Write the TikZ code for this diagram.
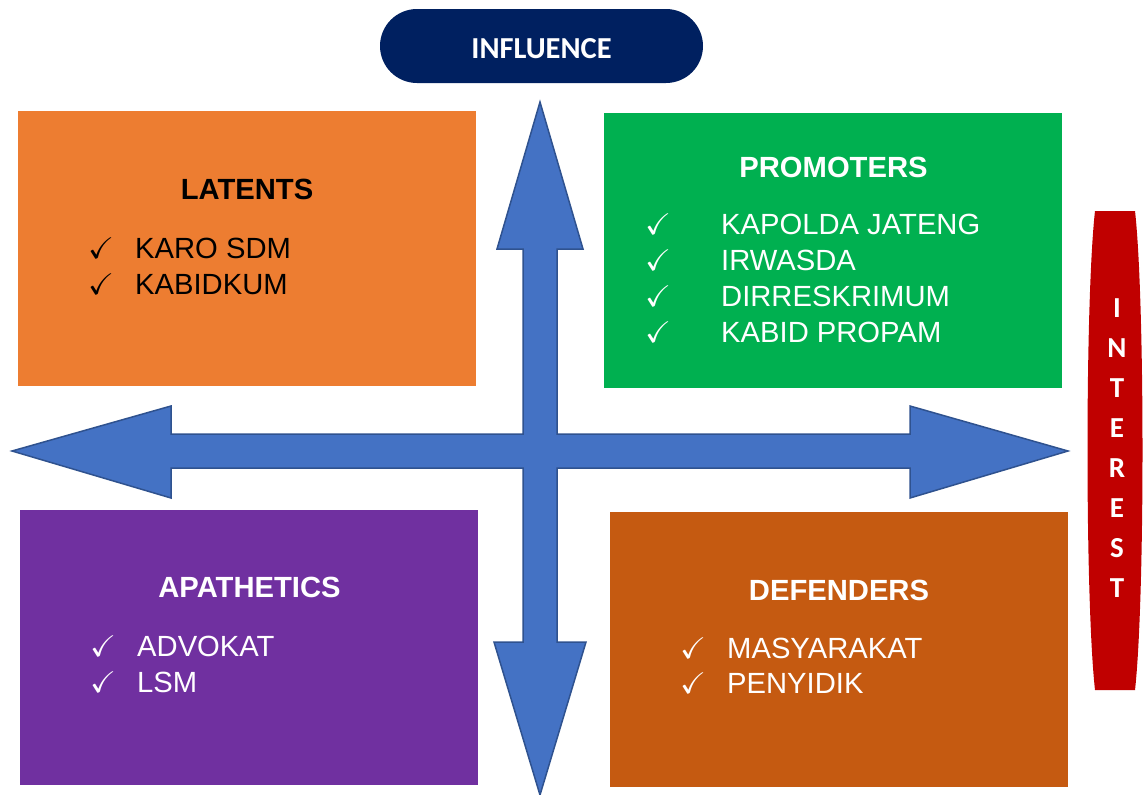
\documentclass[tikz,border=0pt]{standalone}
\usepackage{amssymb}
\usepackage{graphicx}
\usepackage{fontspec}
\setmainfont{Liberation Sans}
\newfontfamily\calibri{Carlito}
\usetikzlibrary{positioning}

\definecolor{latorange}{HTML}{ED7D31}
\definecolor{promgreen}{HTML}{00B050}
\definecolor{apapurple}{HTML}{7030A0}
\definecolor{defbrown}{HTML}{C55A11}
\definecolor{infnavy}{HTML}{002060}
\definecolor{intred}{HTML}{C00000}
\definecolor{crossblue}{HTML}{4472C4}
\definecolor{crossedge}{HTML}{2F528F}

\newcommand{\tickmark}{\scalebox{1.25}[1.2]{$\checkmark$}}

\tikzset{
  quad/.style={minimum width=458pt, minimum height=275pt, inner sep=0pt},
  head/.style={font=\fontsize{29.2}{34}\selectfont\bfseries, anchor=base, inner sep=0pt},
  item/.style={font=\fontsize{29.2}{34}\selectfont, anchor=base west, inner sep=0pt},
  tick/.style={font=\fontsize{24.88}{30}\selectfont, anchor=base west, inner sep=0pt}
}

\begin{document}
\begin{tikzpicture}[x=1pt, y=-1pt]

\useasboundingbox (0,0) rectangle (1146,795);

% the four quadrants
\node[quad, fill=latorange] (latents) at (247,248.5) {};
\node[quad, fill=promgreen] (promoters) at (833,250.5) {};
\node[quad, fill=apapurple] (apathetics) at (249,647) {};
\node[quad, fill=defbrown] (defenders) at (839,649) {};

% cross of arrows
\draw[crossedge, fill=crossblue, line width=1.5pt, line join=miter]
  (540,102) -- (583,249) -- (557,249) -- (557,434) -- (910,434) -- (910,406)
  -- (1068,451) -- (910,498) -- (910,468) -- (557,468) -- (557,642) -- (586,642)
  -- (540,795) -- (494,642) -- (523,642) -- (523,468) -- (171,468) -- (171,498)
  -- (12,451) -- (171,406) -- (171,434) -- (523,434) -- (523,249) -- (497,249) -- cycle;

% axis labels
\node[fill=infnavy, rounded corners=37pt, minimum width=323pt, minimum height=74pt] (influence) at (541.5,46) {};
\node[text=white, anchor=base, inner sep=0pt,
  font=\fontsize{30.5}{34}\selectfont\calibri\bfseries] (influence-text) at (541.5,58) {INFLUENCE};

\fill[intred] (1095,211) -- (1135,211) .. controls (1145,300) and (1145,600) .. (1135,690)
  -- (1095,690) .. controls (1085,600) and (1085,300) .. (1095,211) -- cycle;
\node[text=white, align=center, font=\fontsize{29}{40}\selectfont\calibri\bfseries] (interest)
  at (1117,448.5) {I\\N\\T\\E\\R\\E\\S\\T};

% latents
\node[head] (lat-head) at (247,199) {LATENTS};
\foreach \txt [count=\i] in {KARO SDM, KABIDKUM}
{
  \node[tick] (lat-tick-\i) at (88,{258+36*(\i-1)}) {\tickmark};
  \node[item] (lat-\i) at (135,{258+36*(\i-1)}) {\txt};
}

% promoters
\node[head, text=white] (prom-head) at (833.5,177) {PROMOTERS};
\foreach \txt [count=\i] in {KAPOLDA JATENG, IRWASDA, DIRRESKRIMUM, KABID PROPAM}
{
  \node[tick, text=white] (prom-tick-\i) at (645,{234+36.3*(\i-1)}) {\tickmark};
  \node[item, text=white] (prom-\i) at (721,{234+36.3*(\i-1)}) {\txt};
}

% apathetics
\node[head, text=white] (apa-head) at (249.5,597) {APATHETICS};
\foreach \txt [count=\i] in {ADVOKAT, LSM}
{
  \node[tick, text=white] (apa-tick-\i) at (90,{656+36*(\i-1)}) {\tickmark};
  \node[item, text=white] (apa-\i) at (137,{656+36*(\i-1)}) {\txt};
}

% defenders
\node[head, text=white] (def-head) at (839,600) {DEFENDERS};
\foreach \txt [count=\i] in {MASYARAKAT, PENYIDIK}
{
  \node[tick, text=white] (def-tick-\i) at (680,{658+35*(\i-1)}) {\tickmark};
  \node[item, text=white] (def-\i) at (727,{658+35*(\i-1)}) {\txt};
}

\end{tikzpicture}
\end{document}
